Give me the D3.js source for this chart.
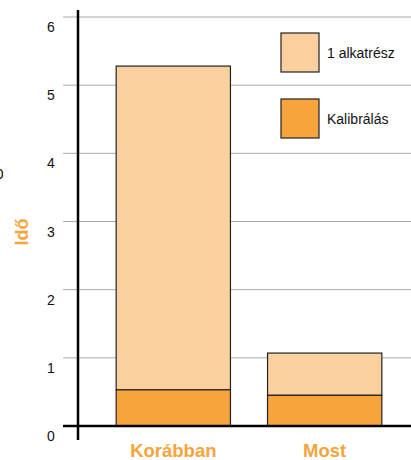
<!DOCTYPE html>
<html>
<head>
<meta charset="utf-8">
<script src="https://cdn.jsdelivr.net/npm/d3@7"></script>
<style>
  body { margin: 0; background: #fff; }
  svg { font-family: "Liberation Sans", Arial, sans-serif; }
</style>
</head>
<body>
<svg id="chart" width="411" height="460"></svg>
<script>
// data
var categories = ['Korábban', 'Most'];
var calibration = [0.53, 0.45];
var onePart = [4.75, 0.62];
var seriesNames = ['1 alkatrész', 'Kalibrálás'];
var yTicks = [0, 1, 2, 3, 4, 5, 6];

var light = '#f9d09e';
var dark = '#f7a43c';
var orange = '#f7a43c';

var svg = d3.select('#chart');

var y = d3.scaleLinear().domain([0, 6]).range([426, 17]);
var x = d3.scaleBand().domain(categories).range([98, 400]).paddingInner(0.245).paddingOuter(0.12);

// grid lines
svg.append('g')
   .selectAll('line')
   .data(yTicks.filter(d => d > 0))
   .enter().append('line')
   .attr('x1', 63).attr('x2', 411)
   .attr('y1', d => y(d)).attr('y2', d => y(d))
   .attr('stroke', '#aaa')
   .attr('stroke-width', 1);

// tick labels
svg.append('g')
   .selectAll('text')
   .data(yTicks)
   .enter().append('text')
   .attr('x', 51)
   .attr('y', d => y(d) + 15)
   .attr('text-anchor', 'middle')
   .attr('font-size', 14)
   .attr('fill', '#111')
   .text(d => d);

// stacked bars
var stack = categories.map((c, i) => ({ cat: c, cal: calibration[i], part: onePart[i] }));

svg.append('g')
   .selectAll('rect')
   .data(stack)
   .enter().append('rect')
   .attr('x', d => x(d.cat))
   .attr('width', x.bandwidth())
   .attr('y', d => y(d.cal + d.part))
   .attr('height', d => y(d.cal) - y(d.cal + d.part))
   .attr('fill', light)
   .attr('stroke', '#222')
   .attr('stroke-width', 1.2);

svg.append('g')
   .selectAll('rect')
   .data(stack)
   .enter().append('rect')
   .attr('x', d => x(d.cat))
   .attr('width', x.bandwidth())
   .attr('y', d => y(d.cal))
   .attr('height', d => y(0) - y(d.cal))
   .attr('fill', dark)
   .attr('stroke', '#222')
   .attr('stroke-width', 1.2);

// baseline and y axis line
svg.append('line')
   .attr('x1', 63).attr('x2', 411)
   .attr('y1', y(0)).attr('y2', y(0))
   .attr('stroke', '#000').attr('stroke-width', 2.5);

svg.append('line')
   .attr('x1', 78).attr('x2', 78)
   .attr('y1', 10).attr('y2', 440)
   .attr('stroke', '#000').attr('stroke-width', 2.5);

// category labels
svg.append('g')
   .selectAll('text')
   .data(categories)
   .enter().append('text')
   .attr('x', d => x(d) + x.bandwidth() / 2)
   .attr('y', 457)
   .attr('text-anchor', 'middle')
   .attr('font-size', 18.5)
   .attr('font-weight', 'bold')
   .attr('fill', orange)
   .text(d => d);

// y axis title
svg.append('text')
   .attr('transform', 'translate(28,232) rotate(-90)')
   .attr('text-anchor', 'middle')
   .attr('font-size', 18)
   .attr('font-weight', 'bold')
   .attr('fill', orange)
   .text('Idő');

// clipped glyph at the left edge
svg.append('text')
   .attr('x', 3.5).attr('y', 179)
   .attr('text-anchor', 'end')
   .attr('font-size', 15)
   .attr('fill', '#111')
   .text('0');

// legend
var legendColors = [light, dark];
var legend = svg.append('g')
   .selectAll('g')
   .data(seriesNames)
   .enter().append('g')
   .attr('transform', (d, i) => 'translate(281,' + (33 + i * 66) + ')');

legend.append('rect')
   .attr('width', 38).attr('height', 39)
   .attr('fill', (d, i) => legendColors[i])
   .attr('stroke', '#222')
   .attr('stroke-width', 1.2);

legend.append('text')
   .attr('x', 46).attr('y', 25)
   .attr('font-size', 14)
   .attr('fill', '#111')
   .text(d => d);
</script>
</body>
</html>
